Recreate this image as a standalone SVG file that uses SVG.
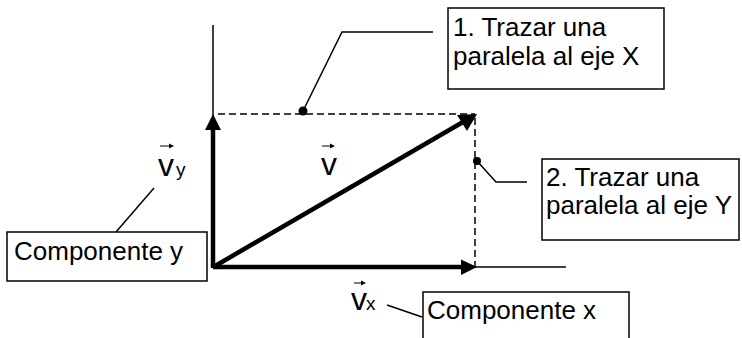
<svg xmlns="http://www.w3.org/2000/svg" width="742" height="338" viewBox="0 0 742 338">
<style>
.t{font-family:"Liberation Sans",Arial,sans-serif;fill:#000}
.lbl{font-size:26px}
.v{font-size:32px}
.sub{font-size:19px}
.box{fill:#fff;stroke:#000;stroke-width:1.5}
.thin{stroke:#000;stroke-width:1.5;fill:none}
.dash{stroke:#000;stroke-width:1.5;stroke-dasharray:7,4;fill:none}
.thick{stroke:#000;stroke-width:4.5;fill:none}
.lead{stroke:#000;stroke-width:1.5;fill:none}
</style>
<rect width="742" height="338" fill="#fff"/>
<g id="axes">
<line class="thin" x1="213" y1="25" x2="213" y2="268"/>
<line class="thin" x1="213" y1="267" x2="566" y2="267"/>
</g>
<g id="guides">
<line class="dash" x1="218" y1="114" x2="475" y2="114"/>
<line class="dash" x1="475" y1="118" x2="475" y2="267"/>
</g>
<g id="vectors">
<g id="vec-vy">
<line class="thick" x1="213" y1="268" x2="213" y2="128"/>
<polygon points="213,114 205,130 221,130" fill="#000"/>
</g>
<g id="vec-vx">
<line class="thick" x1="213" y1="267" x2="463" y2="267"/>
<polygon points="477,267 461,259.5 461,275" fill="#000"/>
</g>
<g id="vec-v">
<line class="thick" x1="215" y1="266" x2="463" y2="122"/>
<polygon points="477,114 457,115 467,131" fill="#000"/>
</g>
</g>
<g id="labels">
<g id="label-vy">
<line x1="160" y1="146" x2="171" y2="146" stroke="#000" stroke-width="1"/>
<polygon points="174,146 169,143.5 169,148.5" fill="#000"/>
<text class="t v" x="158" y="176">v</text>
<text class="t sub" x="176" y="176">y</text>
</g>
<g id="label-v">
<line x1="322" y1="146" x2="332" y2="146" stroke="#000" stroke-width="1"/>
<polygon points="335,146 330,143.5 330,148.5" fill="#000"/>
<text class="t v" x="321" y="175">v</text>
</g>
<g id="label-vx">
<line x1="354" y1="283" x2="363" y2="283" stroke="#000" stroke-width="1"/>
<polygon points="366,283 361,280.5 361,285.5" fill="#000"/>
<text class="t v" x="351" y="310">v</text>
<text class="t sub" x="366" y="310">x</text>
</g>
</g>
<g id="connectors">
<circle cx="303" cy="111" r="4.5" fill="#000"/>
<polyline class="lead" points="303,111 342,32 433,32"/>
<circle cx="477" cy="161" r="4" fill="#000"/>
<polyline class="lead" points="477,161 496,182 527,182"/>
<line class="lead" x1="116" y1="232" x2="154" y2="188"/>
<line class="lead" x1="387" y1="305" x2="422" y2="317"/>
</g>
<g id="box1">
<rect class="box" x="448" y="8" width="216" height="81"/>
<text class="t lbl" x="453" y="36">1. Trazar una</text>
<text class="t lbl" x="453" y="65">paralela al eje X</text>
</g>
<g id="box2">
<rect class="box" x="542" y="159" width="197" height="81"/>
<text class="t lbl" x="546" y="186">2. Trazar una</text>
<text class="t lbl" x="546" y="214">paralela al eje Y</text>
</g>
<g id="boxy">
<rect class="box" x="7" y="232" width="200" height="49"/>
<text class="t lbl" x="14" y="260">Componente y</text>
</g>
<g id="boxx">
<rect class="box" x="423" y="292" width="206" height="60"/>
<text class="t lbl" x="427" y="319">Componente x</text>
</g>
</svg>
